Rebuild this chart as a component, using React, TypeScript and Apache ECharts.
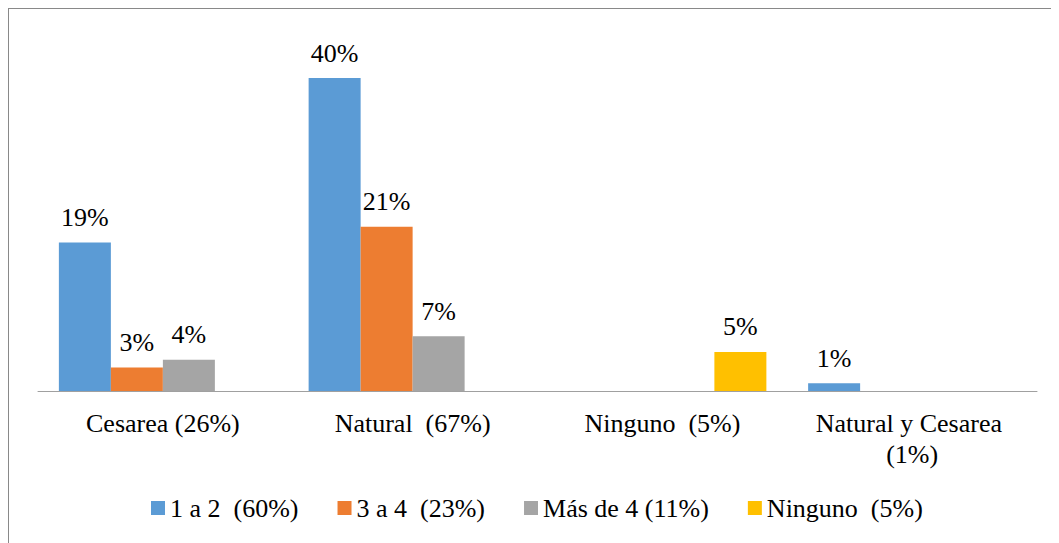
import React, { useEffect, useRef } from "react";
import * as echarts from "echarts";

const categories = ["Cesarea (26%)", "Natural  (67%)", "Ninguno  (5%)", "Natural y Cesarea (1%)"];
const seriesNames = ["1 a 2  (60%)", "3 a 4  (23%)", "Más de 4 (11%)", "Ninguno  (5%)"];
const s1 = [19, 40, null, 1];
const s2 = [3, 21, null, null];
const s3 = [4, 7, null, null];
const s4 = [null, null, 5, null];
const colors = ["#5B9BD5", "#ED7D31", "#A5A5A5", "#FFC000"];

const FONT = "Liberation Serif";
const serifText = { fontFamily: FONT, fontSize: 26, color: "#000", fontWeight: "normal" as const };

export default function App() {
  const ref = useRef<HTMLDivElement>(null);
  useEffect(() => {
    if (!ref.current) return;
    const chart = echarts.init(ref.current, undefined, { renderer: "svg" });
    const data = [s1, s2, s3, s4];
    chart.setOption({
      animation: false,
      color: colors,
      textStyle: { fontFamily: FONT },
      grid: { left: 29, right: 22, top: 30, bottom: 152 },
      legend: {
        left: 137,
        top: 481,
        itemWidth: 14,
        itemHeight: 14,
        itemGap: 39,
        icon: "rect",
        textStyle: { ...serifText },
        data: seriesNames,
      },
      xAxis: {
        type: "category",
        data: categories,
        axisLine: { lineStyle: { color: "#A0A0A0", width: 1 } },
        axisTick: { show: false },
        axisLabel: {
          interval: 0,
          margin: 17,
          ...serifText,
          lineHeight: 31,
          width: 225,
          overflow: "break",
        },
      },
      yAxis: {
        type: "value",
        min: 0,
        max: 45,
        show: false,
        splitLine: { show: false },
      },
      series: seriesNames.map((name, i) => ({
        name,
        type: "bar",
        data: data[i],
        barWidth: 52,
        barGap: "0%",
        itemStyle: { color: colors[i] },
        label: {
          show: true,
          position: "top",
          distance: 12,
          formatter: "{c}%",
          ...serifText,
        },
      })),
    });
    return () => chart.dispose();
  }, []);
  return (
    <div
      ref={ref}
      style={{
        width: 1050,
        height: 534,
        borderTop: "1px solid #898989",
        borderLeft: "1px solid #898989",
        background: "#fff",
      }}
    />
  );
}
